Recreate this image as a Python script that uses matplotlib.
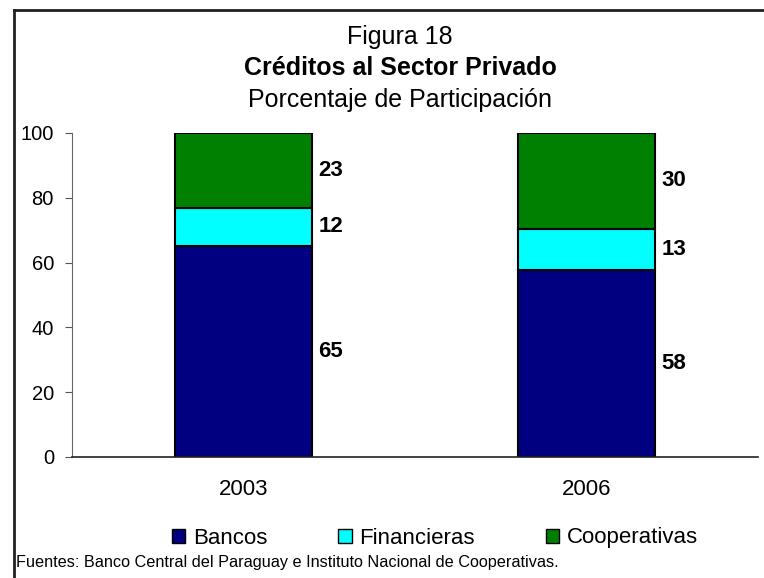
import numpy as np
import matplotlib.pyplot as plt
from matplotlib.patches import Patch
from matplotlib.lines import Line2D

plt.rcParams['font.family'] = ['Liberation Sans', 'DejaVu Sans']

years = ['2003', '2006']
series = ['Bancos', 'Financieras', 'Cooperativas']
bancos = [65, 57.6]
financieras = [12, 12.9]
cooperativas = [23, 29.5]
colores = ['#000080', '#00FFFF', '#008000']

fig = plt.figure(figsize=(7.64, 5.78), dpi=100)
ax = fig.add_axes([72 / 764, 1 - 457 / 578, 686 / 764, 324 / 578])

x = np.arange(len(years))
ancho = 0.4
base = np.zeros(len(years))
for nombre, vals, col in zip(series, [bancos, financieras, cooperativas], colores):
    vals = np.array(vals)
    ax.bar(x, vals, ancho, bottom=base, color=col, edgecolor='black', linewidth=1.5, label=nombre)
    for xi, b, v in zip(x, base, vals):
        ax.text(xi + ancho / 2 + 0.018, b + v / 2, '%.0f' % v, ha='left', va='center',
                fontsize=16, fontweight='bold')
    base = base + vals

ax.set_xlim(-0.5, 1.5)
ax.set_ylim(0, 100)
ax.set_yticks(range(0, 101, 20))
ax.set_xticks(x)
ax.set_xticklabels(years)
ax.tick_params(axis='y', labelsize=14.5, length=5, width=0.8, color='#555555', pad=8)
ax.tick_params(axis='x', labelsize=16, length=0, pad=16)
for s in ['top', 'right']:
    ax.spines[s].set_visible(False)
ax.spines['left'].set_color('#666666')
ax.spines['bottom'].set_color('#222222')
ax.spines['bottom'].set_linewidth(1.2)

fig.text(400 / 764, 1 - 37 / 578, 'Figura 18', ha='center', va='center', fontsize=18)
fig.text(400 / 764, 1 - 68 / 578, 'Créditos al Sector Privado', ha='center', va='center',
         fontsize=18, fontweight='bold')
fig.text(400 / 764, 1 - 100 / 578, 'Porcentaje de Participación', ha='center', va='center',
         fontsize=18)

handles = [Patch(facecolor=c, edgecolor='black', linewidth=1) for c in colores]
fig.legend(handles, series, loc='center', bbox_to_anchor=(435 / 764, 1 - 538 / 578), ncol=3,
           frameon=False, fontsize=16, handlelength=0.6, handleheight=0.6, handletextpad=0.35,
           columnspacing=3.2)

fig.text(16 / 764, 1 - 563 / 578,
         'Fuentes: Banco Central del Paraguay e Instituto Nacional de Cooperativas.',
         ha='left', va='center', fontsize=11.7)

# marco de la figura (solo arriba e izquierda visibles)
fig.add_artist(Line2D([14 / 764, 14 / 764], [0, 1 - 10 / 578], transform=fig.transFigure,
                      color='#222222', linewidth=2))
fig.add_artist(Line2D([14 / 764, 1], [1 - 10 / 578, 1 - 10 / 578], transform=fig.transFigure,
                      color='#222222', linewidth=2))

fig.savefig('out.png', dpi=100)
